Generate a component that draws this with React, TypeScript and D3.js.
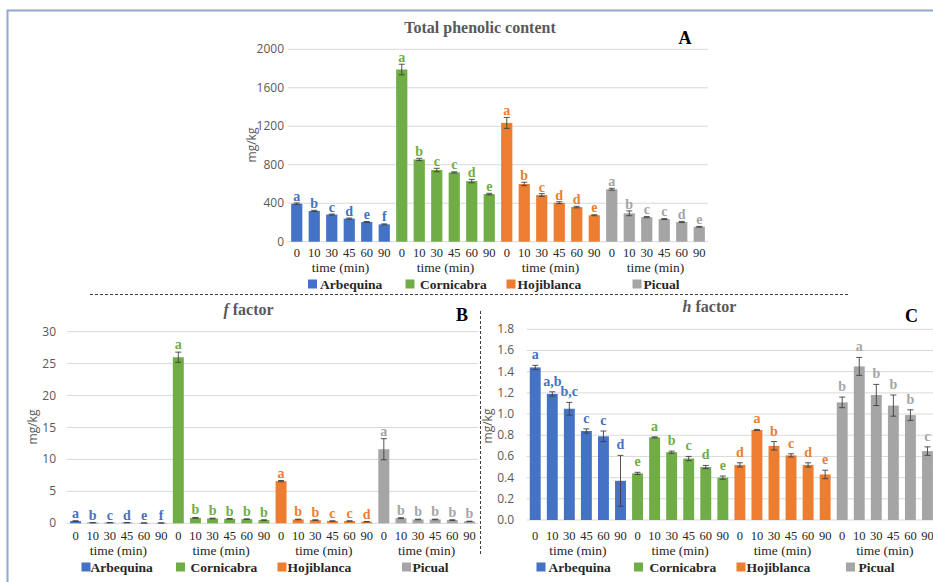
import React from 'react';
import * as d3 from 'd3';

// Olive varieties and sampling times (min)
const varieties = ['Arbequina', 'Cornicabra', 'Hojiblanca', 'Picual'];
const times = ['0', '10', '30', '45', '60', '90'];
const varietyColors = ['#4472C4', '#70AD47', '#ED7D31', '#A5A5A5'];

// Total phenolic content (mg/kg)
const tpcMean = [
  [395, 320, 282, 240, 205, 180],
  [1790, 855, 745, 720, 630, 495],
  [1235, 600, 485, 405, 360, 275],
  [545, 295, 255, 235, 205, 155],
];
const tpcErr = [
  [8, 6, 5, 6, 5, 5],
  [55, 12, 18, 6, 18, 8],
  [57, 18, 14, 10, 8, 5],
  [10, 25, 6, 5, 6, 4],
];
const tpcLetters = [
  ['a', 'b', 'c', 'd', 'e', 'f'],
  ['a', 'b', 'c', 'c', 'd', 'e'],
  ['a', 'b', 'c', 'd', 'd', 'e'],
  ['a', 'b', 'c', 'c', 'd', 'e'],
];

// f factor (mg/kg)
const fMean = [
  [0.35, 0.1, 0.1, 0.1, 0.05, 0.05],
  [26.0, 0.85, 0.75, 0.7, 0.65, 0.5],
  [6.6, 0.6, 0.5, 0.35, 0.35, 0.25],
  [11.6, 0.8, 0.6, 0.6, 0.5, 0.3],
];
const fErr = [
  [0.05, 0.02, 0.02, 0.02, 0.01, 0.01],
  [0.8, 0.06, 0.05, 0.05, 0.05, 0.04],
  [0.1, 0.05, 0.05, 0.04, 0.04, 0.03],
  [1.65, 0.07, 0.05, 0.05, 0.05, 0.03],
];
const fLetters = [
  ['a', 'b', 'c', 'd', 'e', 'f'],
  ['a', 'b', 'b', 'b', 'b', 'b'],
  ['a', 'b', 'b', 'c', 'c', 'd'],
  ['a', 'b', 'b', 'b', 'b', 'b'],
];

// h factor (mg/kg)
const hMean = [
  [1.44, 1.19, 1.05, 0.84, 0.79, 0.37],
  [0.44, 0.78, 0.64, 0.58, 0.5, 0.4],
  [0.52, 0.85, 0.7, 0.61, 0.52, 0.43],
  [1.11, 1.45, 1.18, 1.08, 0.99, 0.65],
];
const hErr = [
  [0.02, 0.02, 0.06, 0.02, 0.05, 0.24],
  [0.01, 0.005, 0.01, 0.02, 0.015, 0.015],
  [0.02, 0.005, 0.04, 0.015, 0.02, 0.04],
  [0.05, 0.085, 0.1, 0.1, 0.05, 0.04],
];
const hLetters = [
  ['a', 'a,b', 'b,c', 'c', 'c', 'd'],
  ['e', 'a', 'b', 'c', 'd', 'e'],
  ['d', 'a', 'b', 'c', 'd', 'e'],
  ['b', 'a', 'b', 'b', 'b', 'c'],
];

const SERIF = '"Liberation Serif", "DejaVu Serif", serif';
const SANS = '"Open Sans", "Liberation Sans", sans-serif';
const AXIS_GREY = '#595959';

type PanelProps = {
  title: React.ReactNode;
  titleX: number;
  titleY: number;
  tag: string;
  tagX: number;
  tagY: number;
  x0: number;
  x1: number;
  yTopPx: number;
  yZeroPx: number;
  yMax: number;
  yStep: number;
  tickFmt: (v: number) => string;
  tickRight: number;
  unitX: number;
  unitY: number;
  means: number[][];
  errs: number[][];
  letters: string[][];
  letterGap: number;
  numY: number;
  timeY: number;
  legendY: number;
  legendSquareX: number[];
  legendTextX: number[];
};

function BarPanel(p: PanelProps) {
  const rows = p.means.flatMap((vals, vi) =>
    vals.map((v, ti) => ({
      key: `${vi}-${ti}`,
      vi,
      ti,
      value: v,
      err: p.errs[vi][ti],
      letter: p.letters[vi][ti],
    }))
  );
  const x = d3
    .scaleBand<string>()
    .domain(rows.map((r) => r.key))
    .range([p.x0, p.x1])
    .paddingInner(0.36)
    .paddingOuter(0.18);
  const y = d3.scaleLinear().domain([0, p.yMax]).range([p.yZeroPx, p.yTopPx]);
  const ticks = d3.range(0, p.yMax + p.yStep / 2, p.yStep);
  const bw = x.bandwidth();

  return (
    <g>
      <text x={p.titleX} y={p.titleY} textAnchor="middle" fontFamily={SERIF} fontWeight="bold" fontSize={16} fill={AXIS_GREY}>
        {p.title}
      </text>
      <text x={p.tagX} y={p.tagY} textAnchor="middle" fontFamily={SERIF} fontWeight="bold" fontSize={18} fill="#000">
        {p.tag}
      </text>
      {ticks.map((t) => (
        <g key={t}>
          <line x1={p.x0} x2={p.x1} y1={y(t)} y2={y(t)} stroke="#D9D9D9" strokeWidth={1} />
          <text x={p.tickRight} y={y(t) + 4} textAnchor="end" fontFamily={SANS} fontSize={12} fill={AXIS_GREY}>
            {p.tickFmt(t)}
          </text>
        </g>
      ))}
      <text
        transform={`translate(${p.unitX},${p.unitY}) rotate(-90)`}
        textAnchor="middle"
        fontFamily={SANS}
        fontSize={12}
        fill={AXIS_GREY}
      >
        mg/kg
      </text>
      {rows.map((r) => {
        const cx = (x(r.key) as number) + bw / 2;
        const top = y(r.value);
        const eTop = y(r.value + r.err);
        const eBot = y(Math.max(0, r.value - r.err));
        const labelY = Math.min(top - 3, eTop - p.letterGap);
        return (
          <g key={r.key}>
            <rect x={x(r.key)} y={top} width={bw} height={p.yZeroPx - top} fill={varietyColors[r.vi]} />
            <line x1={cx} x2={cx} y1={eTop} y2={eBot} stroke="#404040" strokeWidth={0.9} />
            <line x1={cx - 3} x2={cx + 3} y1={eTop} y2={eTop} stroke="#404040" strokeWidth={0.9} />
            <line x1={cx - 3} x2={cx + 3} y1={eBot} y2={eBot} stroke="#404040" strokeWidth={0.9} />
            <text x={cx} y={labelY} textAnchor="middle" fontFamily={SERIF} fontWeight="bold" fontSize={14} fill={varietyColors[r.vi]}>
              {r.letter}
            </text>
            <text x={cx} y={p.numY} textAnchor="middle" fontFamily={SERIF} fontSize={12.5} fill="#262626">
              {times[r.ti]}
            </text>
          </g>
        );
      })}
      {varieties.map((name, vi) => {
        const first = x(`${vi}-0`) as number;
        const last = (x(`${vi}-5`) as number) + bw;
        return (
          <text key={name} x={(first + last) / 2} y={p.timeY} textAnchor="middle" fontFamily={SERIF} fontSize={13.5} fill="#262626">
            time (min)
          </text>
        );
      })}
      {varieties.map((name, vi) => (
        <g key={`lg-${name}`}>
          <rect x={p.legendSquareX[vi]} y={p.legendY - 9} width={9} height={9} fill={varietyColors[vi]} />
          <text x={p.legendTextX[vi]} y={p.legendY} fontFamily={SERIF} fontWeight="bold" fontSize={13.5} fill="#262626">
            {name}
          </text>
        </g>
      ))}
    </g>
  );
}

export default function App() {
  const fmtInt = (v: number) => String(v);
  const fmtOne = d3.format('.1f');
  return (
    <svg width={933} height={582} style={{ position: 'absolute', left: 0, top: 0, display: 'block', background: '#fff' }}>
      <rect width={933} height={582} fill="#fff" />
      <path d="M7.5,582 V10.5 H933" fill="none" stroke="#93A6CB" strokeWidth={2} />

      <BarPanel
        title="Total phenolic content"
        titleX={480}
        titleY={33}
        tag="A"
        tagX={685}
        tagY={44}
        x0={288}
        x1={708}
        yTopPx={49.3}
        yZeroPx={241.7}
        yMax={2000}
        yStep={400}
        tickFmt={fmtInt}
        tickRight={284}
        unitX={256}
        unitY={145}
        means={tpcMean}
        errs={tpcErr}
        letters={tpcLetters}
        letterGap={2}
        numY={257}
        timeY={272}
        legendY={288.5}
        legendSquareX={[308, 405.5, 506.5, 632.5]}
        legendTextX={[320, 420, 517.5, 643.5]}
      />

      <BarPanel
        title={
          <>
            <tspan fontStyle="italic">f</tspan>
            <tspan> factor</tspan>
          </>
        }
        titleX={248.5}
        titleY={315}
        tag="B"
        tagX={462}
        tagY={321}
        x0={67}
        x1={478}
        yTopPx={331.7}
        yZeroPx={523.3}
        yMax={30}
        yStep={5}
        tickFmt={fmtInt}
        tickRight={56}
        unitX={37}
        unitY={427}
        means={fMean}
        errs={fErr}
        letters={fLetters}
        letterGap={3}
        numY={540}
        timeY={555}
        legendY={571.5}
        legendSquareX={[81.5, 176, 277.5, 402]}
        legendTextX={[90.5, 190.5, 287.5, 412.5]}
      />

      <BarPanel
        title={
          <>
            <tspan fontStyle="italic">h</tspan>
            <tspan> factor</tspan>
          </>
        }
        titleX={709.5}
        titleY={312}
        tag="C"
        tagX={911.5}
        tagY={322}
        x0={526.7}
        x1={936}
        yTopPx={329.3}
        yZeroPx={520}
        yMax={1.8}
        yStep={0.2}
        tickFmt={fmtOne}
        tickRight={514}
        unitX={492}
        unitY={426}
        means={hMean}
        errs={hErr}
        letters={hLetters}
        letterGap={6}
        numY={540}
        timeY={555}
        legendY={571.5}
        legendSquareX={[536.5, 634, 736.5, 846]}
        legendTextX={[548.5, 649.5, 746.5, 858.5]}
      />

      <line x1={90} x2={850} y1={294.5} y2={294.5} stroke="#404040" strokeWidth={1} strokeDasharray="3,2" />
      <line x1={480.5} x2={480.5} y1={311} y2={555} stroke="#404040" strokeWidth={1} strokeDasharray="3,2" />
    </svg>
  );
}
